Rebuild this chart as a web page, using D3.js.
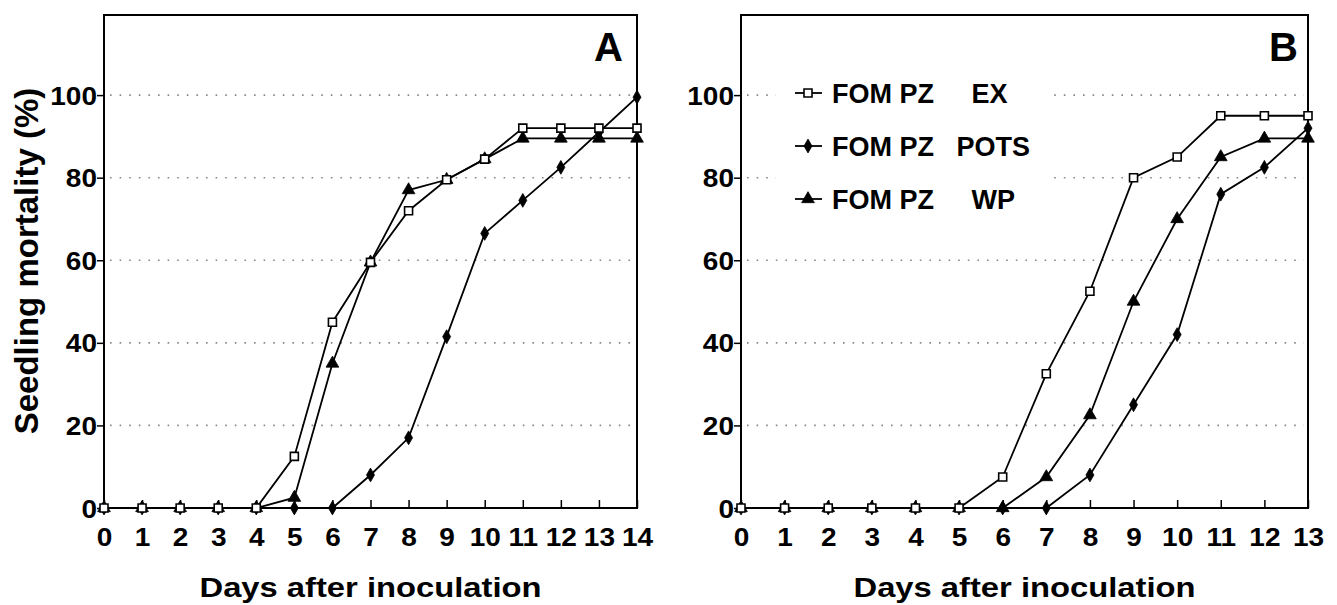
<!DOCTYPE html>
<html>
<head>
<meta charset="utf-8">
<script src="https://cdn.jsdelivr.net/npm/d3@7"></script>
<style>
  body { margin: 0; background: #fff; }
  text { font-family: "Liberation Sans", Arial, Helvetica, sans-serif; font-weight: bold; fill: #000; }
  .tick line { stroke: #000; stroke-width: 1.5; }
</style>
</head>
<body>
<svg id="chart" width="1337" height="605"></svg>
<script>
// panel A
var daysA = [0, 1, 2, 3, 4, 5, 6, 7, 8, 9, 10, 11, 12, 13, 14];
var exA   = [0, 0, 0, 0, 0, 12.5, 45, 59.5, 72, 79.5, 84.5, 92, 92, 92, 92];
var potsA = [0, 0, 0, 0, 0, 0, 0, 8, 17, 41.5, 66.5, 74.5, 82.5, 91, 99.5];
var wpA   = [0, 0, 0, 0, 0, 2.5, 35, 59.5, 77, 79.5, 84.5, 89.5, 89.5, 89.5, 89.5];

// panel B
var daysB = [0, 1, 2, 3, 4, 5, 6, 7, 8, 9, 10, 11, 12, 13];
var exB   = [0, 0, 0, 0, 0, 0, 7.5, 32.5, 52.5, 80, 85, 95, 95, 95];
var potsB = [0, 0, 0, 0, 0, 0, 0, 0, 8, 25, 42, 76, 82.5, 92];
var wpB   = [0, 0, 0, 0, 0, 0, 0, 7.5, 22.5, 50, 70, 85, 89.5, 89.5];

var yTicks = [0, 20, 40, 60, 80, 100];
var gridVals = [20, 40, 60, 80, 100];
var legendLabels = ["FOM PZ     EX", "FOM PZ   POTS", "FOM PZ     WP"];
var seriesKeys = ["ex", "pots", "wp"];

var svg = d3.select("#chart");

var symbols = {
  ex:   d3.symbol().type(d3.symbolSquare).size(64),
  pots: d3.symbol().type(d3.symbolDiamond).size(55),
  wp:   d3.symbol().type(d3.symbolTriangle).size(70)
};

function drawPanel(cfg) {
  var last = cfg.days[cfg.days.length - 1];
  var x = d3.scaleLinear().domain([0, last]).range([cfg.left, cfg.right]);
  var y = d3.scaleLinear().domain([0, 119.4]).range([508, 15]);
  var g = svg.append("g");

  // dotted gridlines
  g.selectAll(".grid")
    .data(gridVals)
    .enter().append("line")
      .attr("x1", cfg.left + 6)
      .attr("x2", cfg.right - 4)
      .attr("y1", function(d) { return y(d); })
      .attr("y2", function(d) { return y(d); })
      .attr("stroke", "#888")
      .attr("stroke-width", 1.6)
      .attr("stroke-dasharray", "1.6,8");

  // x axis, ticks pointing inside
  g.append("g")
    .attr("transform", "translate(0," + y(0) + ")")
    .call(d3.axisBottom(x).tickValues(cfg.days).tickSize(-8).tickPadding(20).tickFormat(d3.format("d")))
    .call(function(a) { a.select(".domain").remove(); })
    .selectAll("text")
      .attr("transform", "scale(1.12,1)")
      .style("font-size", "25px")
      .style("font-family", "'Liberation Sans', Arial, sans-serif")
      .style("font-weight", "bold");

  // y axis
  g.append("g")
    .attr("transform", "translate(" + cfg.left + ",0)")
    .call(d3.axisLeft(y).tickValues(yTicks).tickSize(7))
    .call(function(a) { a.select(".domain").remove(); })
    .selectAll("text")
      .attr("x", 0)
      .attr("dy", "0.36em")
      .attr("transform", "translate(-7,0) scale(1.12,1)")
      .style("font-size", "25px")
      .style("font-family", "'Liberation Sans', Arial, sans-serif")
      .style("font-weight", "bold");

  // frame
  g.append("rect")
    .attr("x", cfg.left)
    .attr("y", y(119.4))
    .attr("width", cfg.right - cfg.left)
    .attr("height", y(0) - y(119.4))
    .attr("fill", "none")
    .attr("stroke", "#000")
    .attr("stroke-width", 2);

  // panel letter
  g.append("text")
    .attr("x", cfg.right - cfg.letterInset)
    .attr("y", 61)
    .attr("text-anchor", "end")
    .style("font-size", "40px")
    .text(cfg.letter);

  // x title
  g.append("text")
    .attr("x", (cfg.left + cfg.right) / 2 - 171)
    .attr("y", 597)
    .attr("textLength", 342)
    .attr("lengthAdjust", "spacingAndGlyphs")
    .style("font-size", "27px")
    .text("Days after inoculation");

  var line = d3.line()
    .x(function(d) { return x(d.day); })
    .y(function(d) { return y(d.v); });

  // draw order: pots, wp, ex on top
  ["pots", "wp", "ex"].forEach(function(key) {
    var pts = cfg.days.map(function(day, i) { return { day: day, v: cfg[key][i] }; });
    g.append("path")
      .datum(pts)
      .attr("d", line)
      .attr("fill", "none")
      .attr("stroke", "#000")
      .attr("stroke-width", 1.8);
    g.selectAll(".m-" + key)
      .data(pts)
      .enter().append("path")
        .attr("class", "m-" + key)
        .attr("transform", function(d) { return "translate(" + x(d.day) + "," + y(d.v) + ")"; })
        .attr("d", symbols[key])
        .attr("fill", key === "ex" ? "#fff" : "#000")
        .attr("stroke", "#000")
        .attr("stroke-width", key === "ex" ? 1.6 : 0.8);
  });

  return { x: x, y: y, g: g };
}

drawPanel({ days: daysA, ex: exA, pots: potsA, wp: wpA, left: 104, right: 637, letter: "A", letterInset: 14 });
var pb = drawPanel({ days: daysB, ex: exB, pots: potsB, wp: wpB, left: 741, right: 1308, letter: "B", letterInset: 10 });

// y title
svg.append("text")
  .attr("transform", "translate(38,261) rotate(-90)")
  .attr("text-anchor", "middle")
  .style("font-size", "33px")
  .text("Seedling mortality (%)");

// legend in panel B
var leg = pb.g.append("g");
leg.append("rect")
  .attr("x", 776).attr("y", 74)
  .attr("width", 274).attr("height", 150)
  .attr("fill", "#fff");

var rowY = [93, 146, 199];
seriesKeys.forEach(function(key, i) {
  var r = leg.append("g").attr("transform", "translate(0," + rowY[i] + ")");
  r.append("line")
    .attr("x1", 795).attr("x2", 822)
    .attr("stroke", "#000").attr("stroke-width", 1.8);
  r.append("path")
    .attr("transform", "translate(808,0)")
    .attr("d", symbols[key])
    .attr("fill", key === "ex" ? "#fff" : "#000")
    .attr("stroke", "#000")
    .attr("stroke-width", key === "ex" ? 1.6 : 0.8);
  r.append("text")
    .attr("x", 832)
    .attr("y", 10)
    .attr("xml:space", "preserve")
    .style("white-space", "pre")
    .style("font-size", "27px")
    .text(legendLabels[i]);
});
</script>
</body>
</html>
